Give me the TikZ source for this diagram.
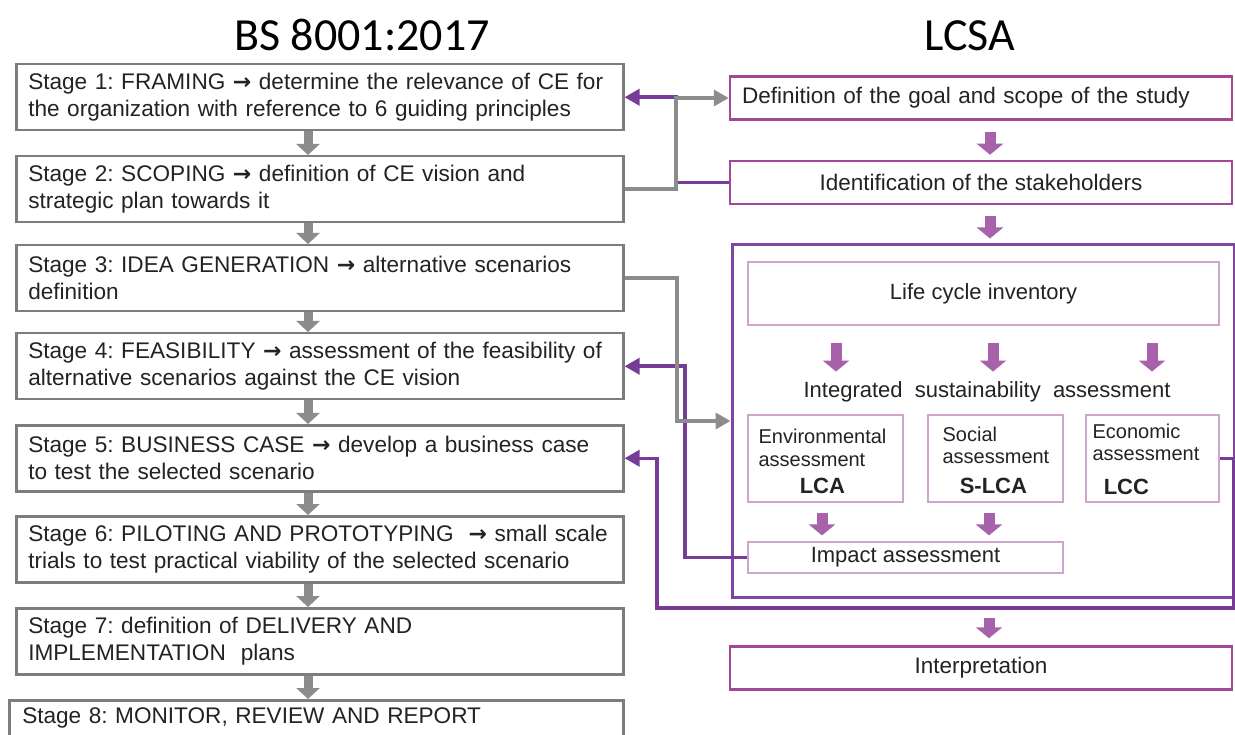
\documentclass[tikz,border=0pt]{standalone}
\usepackage{fontspec}
\setmainfont{Liberation Sans}
\newfontfamily\titlefont{Carlito}
\newfontfamily\arrowfont{DejaVu Sans}
\newcommand{\rarr}{{\arrowfont\bfseries\fontsize{22}{22}\selectfont →}}
\frenchspacing
\usetikzlibrary{arrows.meta,calc}
\definecolor{txt}{RGB}{35,35,35}
\definecolor{gbox}{RGB}{125,125,125}
\definecolor{gline}{RGB}{140,140,140}
\definecolor{pline}{RGB}{118,60,150}
\definecolor{pbox}{RGB}{165,70,150}
\definecolor{pbig}{RGB}{130,70,160}
\definecolor{pthin}{RGB}{205,165,205}
\definecolor{parr}{RGB}{168,98,172}
\begin{document}
\begin{tikzpicture}[x=1pt,y=-1pt,
  stagebox/.style={draw=gbox, line width=2.5pt, fill=white, anchor=north west,
    minimum width=607pt, minimum height=66pt, text width=583pt, inner xsep=12pt,
    align=left, text=txt, font=\fontsize{22.6}{27}\selectfont},
  rbox/.style={draw=pbox, line width=2.5pt, minimum width=502pt, minimum height=43pt,
    text=txt, font=\fontsize{22.5}{27}\selectfont},
  bigbox/.style={draw=pbig, line width=3pt, minimum width=502pt, minimum height=352pt},
  thinbox/.style={draw=pthin, line width=1.2pt, text=txt, font=\fontsize{22}{27}\selectfont},
  lab/.style={text=txt, inner sep=0pt, font=\fontsize{20}{24}\selectfont},
  blab/.style={text=txt, inner sep=0pt, font=\fontsize{22}{24}\selectfont\bfseries},
  garrow/.style={draw=gline, line width=9pt, -{Triangle[length=11pt,width=23pt]}},
  parrow/.style={draw=parr, line width=11pt, -{Triangle[length=11pt,width=26pt]}},
  gconn/.style={draw=gline, line width=3.5pt, -{Triangle[length=15pt,width=16pt]}},
  pconn/.style={draw=pline, line width=3.5pt, -{Triangle[length=15pt,width=16pt]}},
  title/.style={text=black, font=\titlefont\fontsize{46}{50}\selectfont}
]
\clip (0,0) rectangle (1235,735);
\fill[white] (0,0) rectangle (1235,735);

% titles
\node[title] (t1) at (362,35) {BS 8001:2017};
\node[title] (t2) at (970,36) {LCSA};

% left column
\node[stagebox] (s1) at (15,63)  {Stage 1: FRAMING \rarr\ determine the relevance of CE for\\the organization with reference to 6 guiding principles};
\node[stagebox] (s2) at (15,155) {Stage 2: SCOPING \rarr\ definition of CE vision and\\strategic plan towards it};
\node[stagebox] (s3) at (15,244) {Stage 3: IDEA GENERATION \rarr\ alternative scenarios\\definition};
\node[stagebox] (s4) at (15,332) {Stage 4: FEASIBILITY \rarr\ assessment of the feasibility of\\alternative scenarios against the CE vision};
\node[stagebox] (s5) at (15,424) {Stage 5: BUSINESS CASE \rarr\ develop a business case\\to test the selected scenario};
\node[stagebox] (s6) at (15,515) {Stage 6: PILOTING AND PROTOTYPING \ \rarr\ small scale\\\makebox[571pt][s]{trials to test practical viability of the selected scenario}};
\node[stagebox] (s7) at (15,607) {Stage 7: definition of DELIVERY AND\\IMPLEMENTATION \ plans};
\node[stagebox, minimum width=614pt, text width=588pt, inner xsep=13pt] (s8) at (8,699) {Stage 8: MONITOR, REVIEW AND REPORT\\\strut};

\coordinate (ax) at (308,0);
\foreach \a/\b in {s1/s2,s2/s3,s3/s4,s4/s5,s5/s6,s6/s7,s7/s8}
  \draw[garrow] (\a.south -| ax) -- (\b.north -| ax);

% right column
\node[rbox, text width=478pt, inner xsep=12pt, align=left] (def) at (981,98) {Definition of the goal and scope of the study};
\node[rbox] (ident) at (981,182.5) {Identification of the stakeholders};
\node[bigbox] (big) at (983,421) {};
\node[thinbox, minimum width=471pt, minimum height=63pt] (lci) at (983.5,293.5) {Life cycle inventory};
\node[text=txt, font=\fontsize{22}{27}\selectfont, inner sep=0pt] (isa) at (987,392) {Integrated \ sustainability \ assessment};
\node[thinbox, minimum width=155pt, minimum height=87pt] (env) at (825.5,458.5) {};
\node[thinbox, minimum width=135pt, minimum height=87pt] (soc) at (995.5,458.5) {};
\node[thinbox, minimum width=133pt, minimum height=87pt] (eco) at (1152.5,458.5) {};
\node[thinbox, minimum width=315pt, minimum height=31pt] (imp) at (905.5,557.5) {Impact assessment};
\node[rbox] (interp) at (981,668) {Interpretation};

\node[lab, anchor=west] (envA) at ($(env.north west)+(11,22)$) {Environmental};
\node[lab, anchor=west] (envB) at ($(env.north west)+(11,46)$) {assessment};
\node[blab] (envC) at ($(env.north west)+(75,72)$) {LCA};
\node[lab, anchor=west] (socA) at ($(soc.north west)+(15,20)$) {Social};
\node[lab, anchor=west] (socB) at ($(soc.north west)+(15,43)$) {assessment};
\node[blab] (socC) at ($(soc.north west)+(66,72)$) {S-LCA};
\node[lab, anchor=west] (ecoA) at ($(eco.north west)+(7,17)$) {Economic};
\node[lab, anchor=west] (ecoB) at ($(eco.north west)+(7,40)$) {assessment};
\node[blab] (ecoC) at ($(eco.north west)+(41,73)$) {LCC};

% purple block arrows
\coordinate (pa) at (990,0);
\draw[parrow] ($(def.south -| pa)+(0,11)$) -- ($(ident.north -| pa)+(0,-5)$);
\draw[parrow] ($(ident.south -| pa)+(0,11)$) -- ($(big.north -| pa)+(0,-5)$);
\foreach \x in {836,993,1152}
  \draw[parrow] ($(lci.south -| \x,0)+(0,17)$) -- ($(isa.north -| \x,0)+(0,-10)$);
\draw[parrow] ($(env.south -| 822,0)+(0,10)$) -- ($(imp.north -| 822,0)+(0,-6)$);
\draw[parrow] ($(soc.south -| 989,0)+(0,10)$) -- ($(imp.north -| 989,0)+(0,-6)$);
\draw[parrow] ($(big.south -| 989,0)+(0,19)$) -- ($(interp.north -| 989,0)+(0,-7)$);

% connectors
\coordinate (j1) at (676,0);
\coordinate (j2) at (677,0);
\coordinate (j3) at (685,0);
\coordinate (j4) at (1234,0);
\coordinate (j5) at (657,0);
\coordinate (jy) at (0,608);
\draw[pconn] (ident.west) -- (ident.west -| j1) -- (s1.east -| j1) -- (s1.east);
\draw[pconn] (imp.west) -- (imp.west -| j3) -- (s4.east -| j3) -- (s4.east);
\draw[pconn] (eco.east) -- (eco.east -| j4) -- (j4 |- jy) -- (j5 |- jy) -- (s5.east -| j5) -- (s5.east);
\draw[gconn] (s2.east) -- (s2.east -| j1) -- (def.west -| j1) -- (def.west);
\draw[gconn] (s3.east) -- (s3.east -| j2) -- (big.west -| j2) -- (big.west);
\end{tikzpicture}
\end{document}
